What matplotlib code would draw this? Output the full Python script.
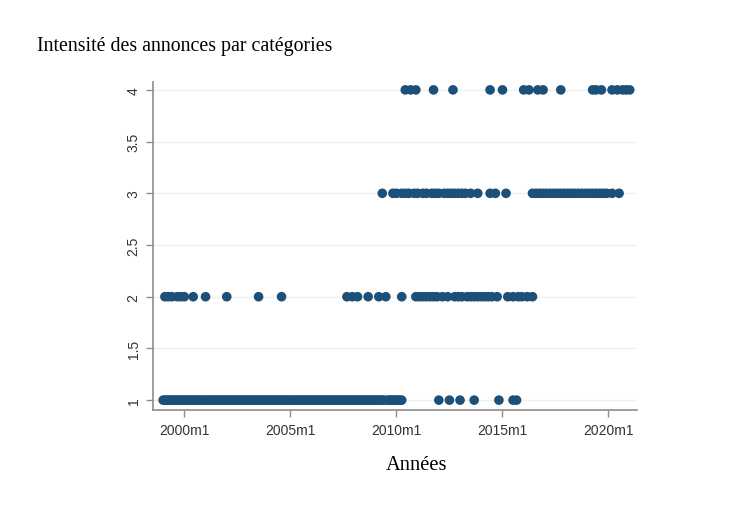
import matplotlib
matplotlib.use("Agg")
import matplotlib.pyplot as plt

# Stata monthly dates (480 = 2000m1)
cat1_months = [468, 469, 470, 471, 472, 473, 474, 475, 476, 477, 478, 479,
               480, 481, 482, 483, 484, 485, 486, 487, 488, 489, 490, 491,
               492, 493, 494, 495, 496, 497, 498, 499, 500, 501, 502, 503,
               504, 505, 506, 507, 508, 509, 510, 511, 512, 513, 514, 515,
               516, 517, 518, 519, 520, 521, 522, 523, 524, 525, 526, 527,
               528, 529, 530, 531, 532, 533, 534, 535, 536, 537, 538, 539,
               540, 541, 542, 543, 544, 545, 546, 547, 548, 549, 550, 551,
               552, 553, 554, 555, 556, 557, 558, 559, 560, 561, 562, 563,
               564, 565, 566, 567, 568, 569, 570, 571, 572, 573, 574, 575,
               576, 577, 578, 579, 580, 581, 582, 583, 584, 585, 586, 587,
               588, 589, 590, 591, 592, 593, 595, 596, 597, 598, 599,
               600, 601, 602, 603,
               624, 630, 636, 644, 658, 666, 668]
cat2_months = [469, 471, 473, 476, 478, 480, 485, 492, 504, 522, 535,
               572, 575, 578, 584, 590, 594, 603,
               611, 613, 615, 617, 619, 621, 623, 626, 629,
               633, 635, 637, 640, 642, 644, 646, 648, 650, 652, 654, 657,
               663, 666, 669, 671, 674, 677]
cat3_months = [592, 598, 600, 603, 605, 607, 610, 612, 615, 617, 620, 622,
               624, 627, 629, 631, 633, 635, 637, 639, 642, 646, 653, 656, 662,
               677, 679, 681, 683, 685, 687, 689, 691, 693, 695, 697, 699, 701,
               703, 705, 707, 709, 711, 713, 715, 717, 719, 722, 726]
cat4_months = [605, 608, 611, 621, 632, 653, 660, 672, 675, 680, 683, 693,
               711, 713, 716, 722, 725, 728, 730, 732]

categories = [1, 2, 3, 4]
series = [cat1_months, cat2_months, cat3_months, cat4_months]

xtick_pos = [480, 540, 600, 660, 720]
xtick_labels = ["2000m1", "2005m1", "2010m1", "2015m1", "2020m1"]
ytick_pos = [1, 1.5, 2, 2.5, 3, 3.5, 4]
ytick_labels = ["1", "1.5", "2", "2.5", "3", "3.5", "4"]

title = "Intensité des annonces par catégories"
xlabel = "Années"

navy = "#1c5079"
axis_col = "#8c8c8c"
grid_col = "#eaf2f3"
tick_text = "#333333"

fig = plt.figure(figsize=(7.54, 5.10), dpi=100)
fig.patch.set_facecolor("white")
ax = fig.add_axes([0.203, 0.194, 0.642, 0.643])

for cat, months in zip(categories, series):
    ax.scatter(months, [cat] * len(months), s=48, color=navy,
               edgecolors="none", zorder=3)

ax.set_xlim(462.3, 736.2)
ax.set_ylim(0.904, 4.075)

ax.set_xticks(xtick_pos)
ax.set_xticklabels(xtick_labels, family="Liberation Sans", fontsize=10,
                   color=tick_text)
ax.set_yticks(ytick_pos)
ax.set_yticklabels(ytick_labels, family="Liberation Sans", fontsize=10,
                   color=tick_text, rotation=90, va="center")

ax.yaxis.grid(True, color=grid_col, linewidth=1.0, zorder=0)
ax.xaxis.grid(False)
ax.set_axisbelow(True)

for side in ["top", "right"]:
    ax.spines[side].set_visible(False)
for side in ["left", "bottom"]:
    ax.spines[side].set_color(axis_col)
    ax.spines[side].set_linewidth(1.2)

ax.tick_params(axis="both", direction="out", length=5, width=1.0,
               color=axis_col, pad=4)

fig.text(37 / 754, 1 - 46 / 510, title, family="Liberation Serif",
         fontsize=14.3, color="black", ha="left", va="center")
fig.text(417 / 754, 1 - 466 / 510, xlabel, family="Liberation Serif",
         fontsize=14.8, color="black", ha="center", va="center")

fig.savefig("out.png", dpi=100, facecolor="white")
